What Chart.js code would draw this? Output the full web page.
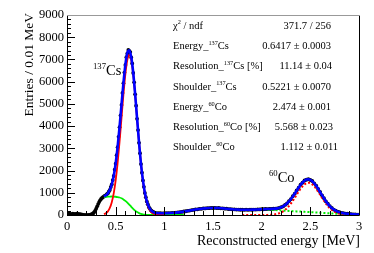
<!DOCTYPE html>
<html>
<head>
<meta charset="utf-8">
<script src="https://cdn.jsdelivr.net/npm/chart.js@4.4.1/dist/chart.umd.min.js"></script>
<style>
  html, body { margin: 0; padding: 0; background: #fff; }
  canvas { display: block; }
</style>
</head>
<body>
<canvas id="myChart" width="374" height="253"></canvas>
<script>
// measured spectrum, counts per bin (bin centres in MeV)
const countsLow = [60, 72, 55, 66, 50, 58, 45, 35, 18, 8, 5, 10, 18];          // 0.00 - 0.24, step 0.02
const countsPeak = [30, 45, 80, 130, 200, 290, 390, 490, 580, 660,
  720, 770, 805, 835, 870, 885, 940, 975, 1060, 1125,
  1260, 1375, 1570, 1760, 2040, 2310, 2690, 3050, 3520, 3950,
  4480, 4950, 5490, 5930, 6410, 6750, 7100, 7270, 7430, 7390,
  7330, 7090, 6820, 6390, 5970, 5430, 4920, 4330, 3820, 3250,
  2780, 2290, 1905, 1555, 1270, 995, 800, 610, 485, 365,
  292, 220, 180, 142, 124, 102];                                               // 0.25 - 0.90, step 0.01
const countsHigh = [88, 78, 80, 75, 80,
  78, 86, 85, 96, 98, 110, 115, 131, 137, 158,
  168, 190, 198, 222, 230, 251, 257, 276, 280, 296,
  297, 311, 309, 320, 315, 322, 313, 316, 302, 301,
  286, 284, 268, 267, 253, 254, 243, 245, 236, 240,
  233, 239, 234, 241, 237, 246, 243, 253, 251, 261,
  259, 269, 267, 275, 271, 282, 283, 302, 315, 354,
  388, 455, 518, 620, 712, 846, 961, 1110, 1228, 1368,
  1455, 1552, 1587, 1612, 1576, 1530, 1422, 1322, 1174, 1043,
  884, 758, 612, 509, 398, 323, 246, 201, 150, 127,
  95, 82, 62, 57, 44, 40, 30, 28, 21, 19];                                    // 0.92 - 3.00, step 0.02

// total fit, 0.38 - 3.00, step 0.02
const fitTotal = [840, 892, 983, 1135, 1385, 1770, 2325, 3065, 3969, 4967,
  5948, 6769, 7292, 7415, 7106, 6412, 5445, 4348, 3265, 2305,
  1569, 1003, 617, 370, 224, 144, 104, 87, 80, 78, 77, 78,
  80, 84, 88, 93, 100, 108, 117, 128, 140, 155,
  170, 186, 202, 218, 233, 247, 260, 272, 283, 292,
  300, 307, 312, 316, 318, 318, 316, 312, 306, 298,
  290, 281, 272, 264, 257, 251, 246, 242, 239, 237,
  236, 236, 237, 238, 240, 243, 246, 250, 254, 258,
  262, 266, 270, 272, 274, 278, 286, 298, 318, 350,
  392, 449, 523, 613, 718, 838, 968, 1101, 1235, 1359,
  1463, 1544, 1593, 1605, 1582, 1522, 1430, 1315, 1181, 1036,
  891, 751, 619, 503, 403, 318, 250, 197, 154, 123,
  98, 79, 65, 55, 46, 38, 32, 26, 22, 18];
// 137Cs photo peak, 0.38 - 1.00, step 0.02
const csPeak = [36, 80, 164, 316, 573, 974, 1557, 2338, 3297, 4367, 5435, 6354, 6979, 7200,
  6979, 6354, 5435, 4340, 3260, 2300, 1540, 965, 568, 312, 162, 79, 36, 17, 7, 3, 1, 0];
// 137Cs shoulder, 0.38 - 1.20, step 0.02
const csShoulder = [805, 815, 825, 830, 832, 830, 822, 808, 787, 752, 702, 636, 556, 465,
  370, 279, 199, 133, 83, 48, 26, 13, 6, 3, 1, 1, 1, 1, 1, 1, 1, 1, 1, 1, 1, 1, 1, 1, 1, 1, 1, 1];
// 60Co sum peak, 1.80 - 3.00, step 0.02
const coPeak = [0, 0, 0, 0, 0, 0, 0, 0, 1, 1, 1,
  2, 3, 5, 9, 14, 23, 36, 55, 81, 118, 166, 229, 308, 403, 514, 639, 774, 914, 1053, 1182,
  1292, 1378, 1432, 1450, 1432, 1378, 1292, 1182, 1053, 914, 774, 639, 514, 403, 308, 229,
  166, 118, 81, 55, 36, 23, 14, 9, 5, 3, 2, 1, 1, 0];
// 60Co shoulder, 2.06 - 3.00, step 0.02
const coShoulder = [240, 235, 230, 225, 220, 215, 210, 205, 199, 194, 189, 184, 179, 174, 169, 163,
  158, 153, 148, 143, 138, 133, 128, 122, 117, 112, 107, 102, 97, 92, 86, 81, 76, 71, 66, 61,
  56, 51, 45, 40, 35, 30, 25, 20, 15, 10, 6, 3];

const yTicks = [0, 1000, 2000, 3000, 4000, 5000, 6000, 7000, 8000, 9000];
const xTicks = [0, 0.5, 1, 1.5, 2, 2.5, 3];

const statLabels = ['\u03c7^{2} / ndf', 'Energy_^{137}Cs', 'Resolution_^{137}Cs [%]', 'Shoulder_^{137}Cs',
  'Energy_^{60}Co', 'Resolution_^{60}Co [%]', 'Shoulder_^{60}Co'];
const statValues = ['371.7 / 256', '0.6417 \u00b1 0.0003', '11.14 \u00b1 0.04', '0.5221 \u00b1 0.0070',
  '2.474 \u00b1 0.001', '5.568 \u00b1 0.023', '1.112 \u00b1 0.011'];

const SERIF = '"Liberation Serif", "Times New Roman", serif';

function seg(start, step, vals) {
  return vals.map((v, i) => ({ x: +(start + i * step).toFixed(3), y: v }));
}

const measured = seg(0, 0.02, countsLow).concat(seg(0.25, 0.01, countsPeak), seg(0.92, 0.02, countsHigh));

function drawRich(ctx, str, x, y, size, alignRight) {
  const parts = str.split(/\^\{([^}]*)\}/);
  const supSize = size * 0.6;
  let w = 0;
  parts.forEach((p, i) => {
    ctx.font = (i % 2 ? supSize : size) + 'px ' + SERIF;
    w += ctx.measureText(p).width;
  });
  let cx = alignRight ? x - w : x;
  parts.forEach((p, i) => {
    const sup = i % 2 === 1;
    ctx.font = (sup ? supSize : size) + 'px ' + SERIF;
    ctx.fillText(p, cx, sup ? y - size * 0.4 : y);
    cx += ctx.measureText(p).width;
  });
}

const rootStyle = {
  id: 'rootStyle',
  afterDatasetsDraw(chart) {
    const { ctx, chartArea: a, scales: { x, y } } = chart;
    ctx.save();
    ctx.strokeStyle = '#000';
    ctx.lineWidth = 1;
    ctx.beginPath();
    for (let v = 0; v <= 9000; v += 200) {
      const py = Math.round(y.getPixelForValue(v)) + 0.5;
      ctx.moveTo(a.left, py);
      ctx.lineTo(a.left + (v % 1000 === 0 ? 8 : 4), py);
    }
    for (let i = 0; i <= 30; i++) {
      const px = Math.round(x.getPixelForValue(i / 10)) + 0.5;
      ctx.moveTo(px, a.bottom);
      ctx.lineTo(px, a.bottom - (i % 5 === 0 ? 8 : 4));
    }
    // left, bottom, right sides of the frame
    ctx.moveTo(a.left + 0.5, a.top);
    ctx.lineTo(a.left + 0.5, a.bottom + 0.5);
    ctx.lineTo(a.right + 0.5, a.bottom + 0.5);
    ctx.lineTo(a.right + 0.5, a.top);
    ctx.stroke();
    ctx.strokeStyle = '#999';
    ctx.beginPath();
    ctx.moveTo(a.left, a.top + 0.5);
    ctx.lineTo(a.right + 1, a.top + 0.5);
    ctx.stroke();

    ctx.fillStyle = '#000';
    ctx.textBaseline = 'alphabetic';
    ctx.textAlign = 'left';
    // stats box
    const valRight = [331, 331, 332, 331, 331, 333, 338];
    statLabels.forEach((s, i) => {
      const by = 28.6 + i * 20.3;
      drawRich(ctx, s, 173, by, 10.5, false);
      drawRich(ctx, statValues[i], valRight[i], by, 10.5, true);
    });
    // peak labels
    drawRich(ctx, '^{137}Cs', 93, 75, 14.5, false);
    drawRich(ctx, '^{60}Co', 269, 182, 14.5, false);
    // axis titles
    ctx.textAlign = 'right';
    ctx.font = '14px ' + SERIF;
    ctx.fillText('Reconstructed energy [MeV]', 360, 245);
    ctx.save();
    ctx.translate(33, 13);
    ctx.rotate(-Math.PI / 2);
    ctx.font = '13.5px ' + SERIF;
    ctx.fillText('Entries / 0.01 MeV', 0, 0);
    ctx.restore();
    ctx.restore();
  }
};

const ctx = document.getElementById('myChart');

new Chart(ctx, {
  type: 'line',
  data: {
    datasets: [
      { label: 'fit', data: seg(0.38, 0.02, fitTotal), borderColor: '#0000ff', borderWidth: 2.6,
        pointRadius: 0, cubicInterpolationMode: 'monotone', order: 0 },
      { label: 'Cs peak', data: seg(0.38, 0.02, csPeak), borderColor: '#ff0000', borderWidth: 1.8,
        pointRadius: 0, cubicInterpolationMode: 'monotone', order: 1 },
      { label: 'Cs shoulder', data: seg(0.38, 0.02, csShoulder), borderColor: '#00ee00', borderWidth: 1.8,
        pointRadius: 0, cubicInterpolationMode: 'monotone', order: 2 },
      { label: 'Co peak', data: seg(1.8, 0.02, coPeak), borderColor: '#ff0000', borderWidth: 2,
        borderDash: [2, 2], pointRadius: 0, cubicInterpolationMode: 'monotone', order: 1 },
      { label: 'Co shoulder', data: seg(2.06, 0.02, coShoulder), borderColor: '#00ee00', borderWidth: 2,
        borderDash: [2, 2], pointRadius: 0, order: 2 },
      { label: 'data', data: measured, showLine: false, pointRadius: 1.9, pointBorderWidth: 0,
        pointBackgroundColor: '#000', order: 3 }
    ]
  },
  options: {
    responsive: false,
    animation: false,
    events: [],
    layout: { padding: { left: 0, top: 15, right: 15, bottom: 0 } },
    plugins: { legend: { display: false }, tooltip: { enabled: false } },
    scales: {
      x: {
        type: 'linear', min: 0, max: 3,
        afterFit(scale) { scale.height = 38; },
        afterBuildTicks(scale) { scale.ticks = xTicks.map(v => ({ value: v })); },
        grid: { display: false, drawTicks: false },
        border: { display: false },
        ticks: { autoSkip: false, maxRotation: 0, padding: 4, color: '#000',
          font: { family: SERIF, size: 12.5 }, callback: v => String(v) }
      },
      y: {
        min: 0, max: 9000,
        afterFit(scale) { scale.width = 67; },
        afterBuildTicks(scale) { scale.ticks = yTicks.map(v => ({ value: v })); },
        grid: { display: false, drawTicks: false },
        border: { display: false },
        ticks: { autoSkip: false, padding: 3, color: '#000',
          font: { family: SERIF, size: 12.5 }, callback: v => String(v) }
      }
    }
  },
  plugins: [rootStyle]
});
</script>
</body>
</html>
